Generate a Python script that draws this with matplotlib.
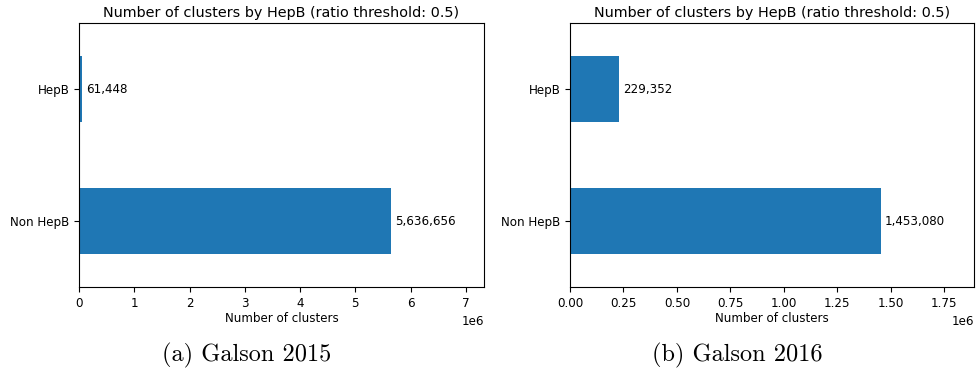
import numpy as np
import matplotlib
matplotlib.use('Agg')
import matplotlib.pyplot as plt

# cluster counts per category, one panel per dataset
categories = ["Non HepB", "HepB"]
counts_2015 = [5636656, 61448]
counts_2016 = [1453080, 229352]
captions = ["(a) Galson 2015", "(b) Galson 2016"]
caption_x = [247/978, 737/978]

fig = plt.figure(figsize=(9.78, 3.71), dpi=100)
ax_a = fig.add_axes([79/978, 1-287/371, 405/978, 264/371])
ax_b = fig.add_axes([570/978, 1-287/371, 404/978, 264/371])

for ax, counts, cap, cx in zip([ax_a, ax_b], [counts_2015, counts_2016], captions, caption_x):
    y = np.arange(len(categories))
    bars = ax.barh(y, counts, height=0.5, color="#1f77b4")
    ax.bar_label(bars, labels=[f"{c:,}" for c in counts], padding=3, fontsize=8.6)
    ax.set_yticks(y)
    ax.set_yticklabels(categories)
    ax.set_ylim(-0.5, 1.5)
    ax.set_xlim(0, max(counts) * 1.3)
    ax.tick_params(labelsize=8.6)
    ax.tick_params(axis="x", pad=4)
    ax.xaxis.get_offset_text().set_fontsize(8.6)
    ax.set_xlabel("Number of clusters", fontsize=8.6, labelpad=1)
    ax.set_title("Number of clusters by HepB (ratio threshold: 0.5)", fontsize=10.4, pad=4)
    # caption under each subfigure
    fig.text(cx, 1-355/371, cap, ha="center", va="center",
             fontfamily="cmr10", fontsize=17.5)

fig.savefig("out.png", dpi=100)
